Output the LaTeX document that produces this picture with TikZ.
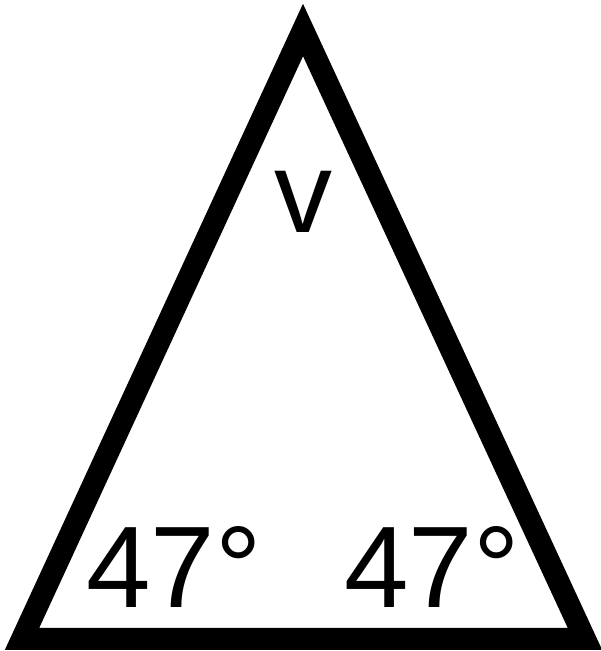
\documentclass[tikz,border=0pt]{standalone}
\usepackage{fontspec}
\setmainfont{Liberation Sans}
\usetikzlibrary{positioning}
\tikzset{anglelabel/.style={inner sep=0pt,anchor=base,font=\fontsize{116}{120}\selectfont}}

\begin{document}
\begin{tikzpicture}[x=1pt,y=1pt]
        \useasboundingbox (0,0) rectangle (601,651);
        \coordinate (top) at (303,621);
        \coordinate (bl) at (22,12);
        \coordinate (br) at (585,12);
        \draw[line width=22pt,line join=miter] (top) -- (bl) -- (br) -- cycle;
        \node[anglelabel] (v) at (303,418) {v};
        \node[anglelabel] (left) at (174,43) {47°};
        \node[anglelabel] (right) at (432,43) {47°};
      \end{tikzpicture}
\end{document}
